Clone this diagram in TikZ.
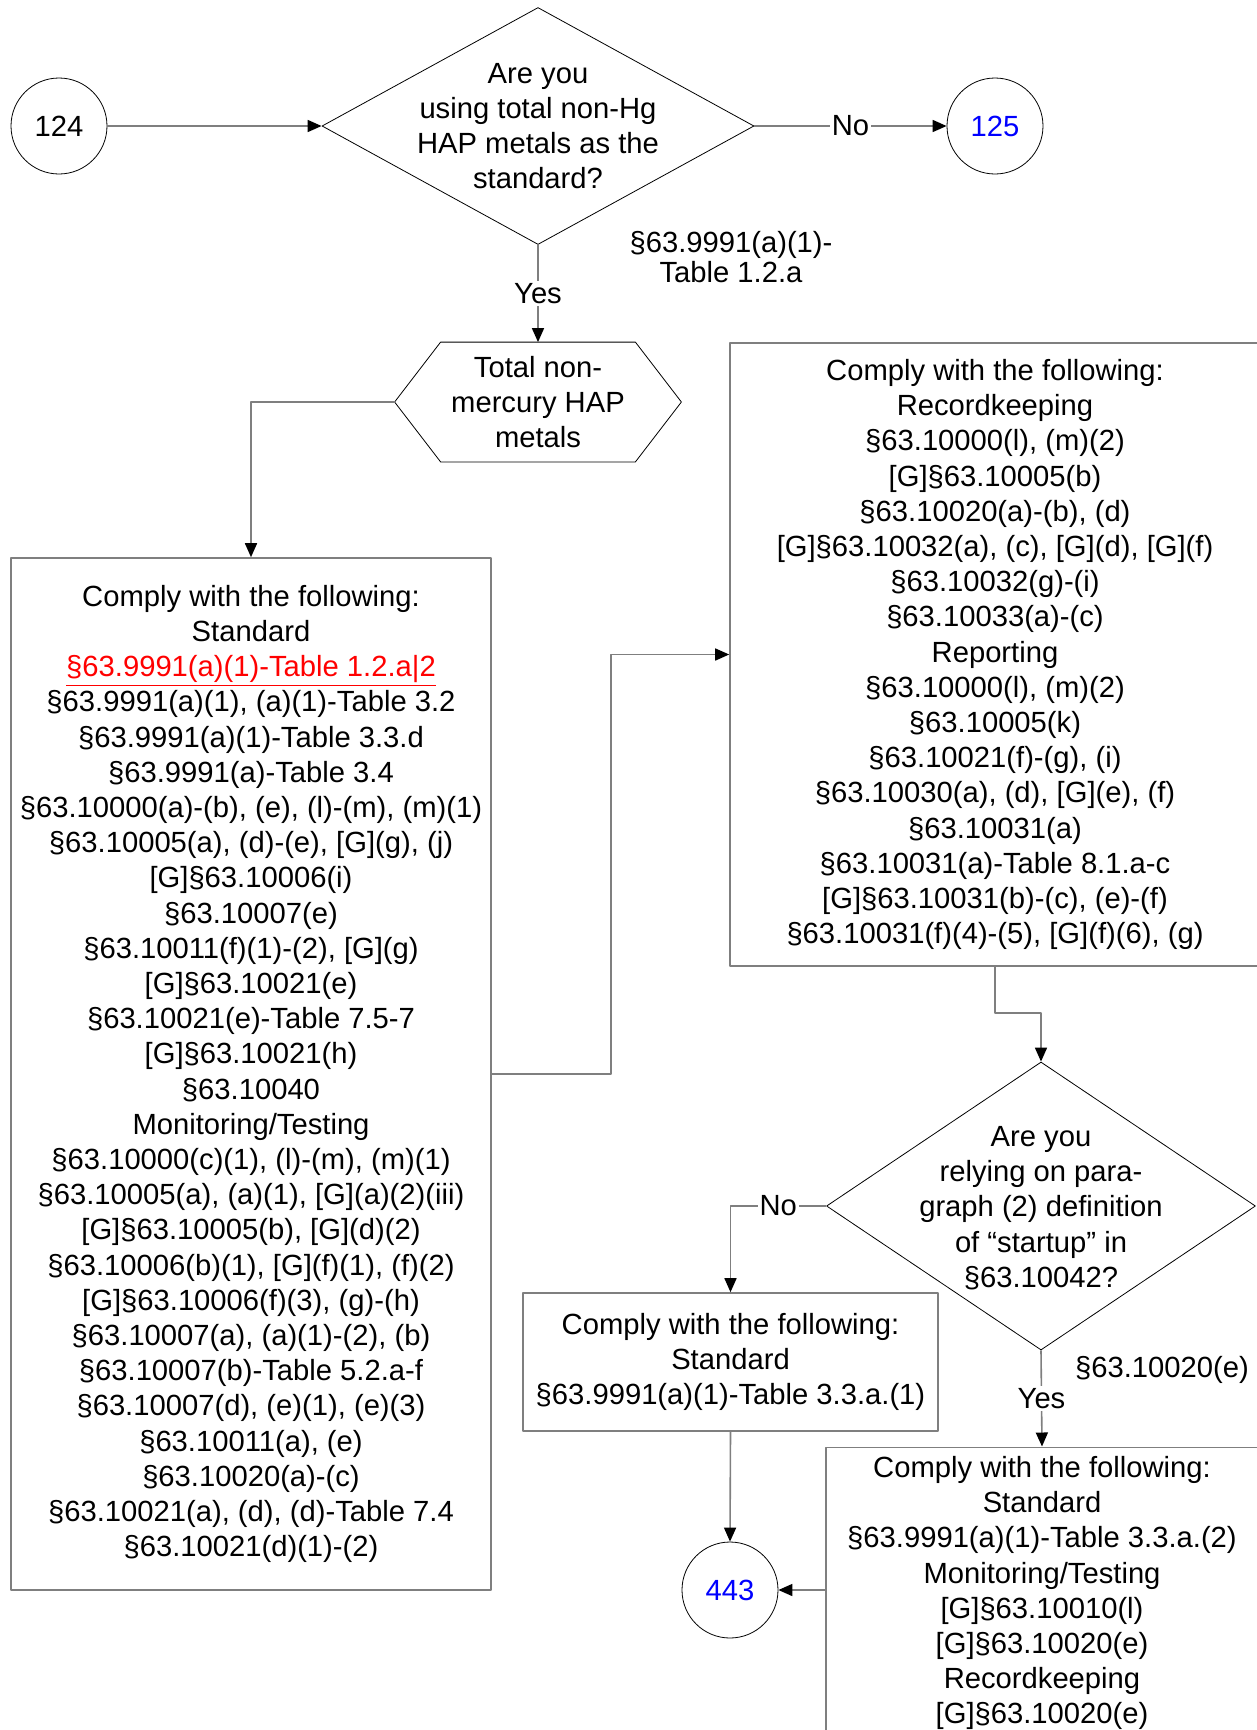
\documentclass[tikz,border=0pt]{standalone}
\usepackage{fontspec}
\setmainfont{Liberation Sans}
\usetikzlibrary{arrows.meta,shapes.geometric}
\definecolor{linegray}{HTML}{7F7F7F}
\definecolor{linkblue}{HTML}{0000FF}
\definecolor{markred}{HTML}{FF0000}
\tikzset{
  conn/.style={draw=linegray, line width=0.8pt},
  stdbox/.style={draw=linegray, line width=0.8pt, align=center, inner sep=0pt},
  decision/.style={diamond, draw, line width=0.4pt, inner sep=0pt},
  pagelink/.style={circle, draw, line width=0.4pt, minimum size=48pt, inner sep=0pt},
  lbl/.style={fill=white, inner sep=1pt},
}
\begin{document}
\begin{tikzpicture}[x=0.5pt, y=-0.5pt, >={Triangle[length=7pt,width=6pt,color=black]},
  font=\fontsize{14.6pt}{17.6pt}\selectfont, line join=round]
\useasboundingbox (0,0) rectangle (1257,1730);
\begin{scope}
\clip (0,0) rectangle (1257,1730);
% top question
\node[pagelink] (c124) at (59,126) {124};
\node[decision, minimum width=216pt, minimum height=118.5pt] (q1) at (538,126) {};
\node[align=center] (q1txt) at (538,126) {Are you\\using total non-Hg\\HAP metals as the\\standard?};
\node[pagelink, text=linkblue] (c125) at (995,126) {125};
\node[align=center, font=\fontsize{14.6pt}{15pt}\selectfont] (ref1) at (731,257) {§63.9991(a)(1)-\\Table 1.2.a};
% hexagon
\node[align=center, minimum width=143pt, minimum height=59.5pt, inner sep=0pt] (hex) at (538,402)
  {Total non-\\mercury HAP\\metals};
\draw[line width=0.4pt] (hex.west) -- ([xshift=23pt]hex.north west) -- ([xshift=-23pt]hex.north east)
  -- (hex.east) -- ([xshift=-23pt]hex.south east) -- ([xshift=23pt]hex.south west) -- cycle;
% left box
\node[stdbox, minimum width=240pt, minimum height=516pt] (lbox) at (251,1074) {Comply with the following:\\
Standard\\
\textcolor{markred}{\underline{§63.9991(a)(1)-Table 1.2.a|2}}\\
§63.9991(a)(1), (a)(1)-Table 3.2\\
§63.9991(a)(1)-Table 3.3.d\\
§63.9991(a)-Table 3.4\\
§63.10000(a)-(b), (e), (l)-(m), (m)(1)\\
§63.10005(a), (d)-(e), [G](g), (j)\\
{}[G]§63.10006(i)\\
§63.10007(e)\\
§63.10011(f)(1)-(2), [G](g)\\
{}[G]§63.10021(e)\\
§63.10021(e)-Table 7.5-7\\
{}[G]§63.10021(h)\\
§63.10040\\
Monitoring/Testing\\
§63.10000(c)(1), (l)-(m), (m)(1)\\
§63.10005(a), (a)(1), [G](a)(2)(iii)\\
{}[G]§63.10005(b), [G](d)(2)\\
§63.10006(b)(1), [G](f)(1), (f)(2)\\
{}[G]§63.10006(f)(3), (g)-(h)\\
§63.10007(a), (a)(1)-(2), (b)\\
§63.10007(b)-Table 5.2.a-f\\
§63.10007(d), (e)(1), (e)(3)\\
§63.10011(a), (e)\\
§63.10020(a)-(c)\\
§63.10021(a), (d), (d)-Table 7.4\\
§63.10021(d)(1)-(2)};
% right box
\node[stdbox, minimum width=265pt, minimum height=311.5pt] (rbox) at (995,654.5) {Comply with the following:\\
Recordkeeping\\
§63.10000(l), (m)(2)\\
{}[G]§63.10005(b)\\
§63.10020(a)-(b), (d)\\
{}[G]§63.10032(a), (c), [G](d), [G](f)\\
§63.10032(g)-(i)\\
§63.10033(a)-(c)\\
Reporting\\
§63.10000(l), (m)(2)\\
§63.10005(k)\\
§63.10021(f)-(g), (i)\\
§63.10030(a), (d), [G](e), (f)\\
§63.10031(a)\\
§63.10031(a)-Table 8.1.a-c\\
{}[G]§63.10031(b)-(c), (e)-(f)\\
§63.10031(f)(4)-(5), [G](f)(6), (g)};
% startup question
\node[decision, minimum width=214.5pt, minimum height=144pt] (q2) at (1041,1206) {};
\node[align=center] (q2txt) at (1041,1208) {Are you\\relying on para-\\graph (2) definition\\of “startup” in\\§63.10042?};
\node (ref2) at (1162,1370) {§63.10020(e)};
\node[stdbox, minimum width=207.5pt, minimum height=69pt] (box3) at (730.5,1362) {Comply with the following:\\
Standard\\
§63.9991(a)(1)-Table 3.3.a.(1)};
\node[pagelink, text=linkblue] (c443) at (730,1590) {443};
\node[stdbox, anchor=north, minimum width=216pt, inner ysep=4.5pt, text depth=30pt] (box4) at (1042,1446.5) {Comply with the following:\\
Standard\\
§63.9991(a)(1)-Table 3.3.a.(2)\\
Monitoring/Testing\\
{}[G]§63.10010(l)\\
{}[G]§63.10020(e)\\
Recordkeeping\\
{}[G]§63.10020(e)};
% connectors
\draw[conn,->] (c124.east) -- (q1.west);
\draw[conn,->] (q1.east) -- node[lbl]{No} (c125.west);
\draw[conn,->] (q1.south) -- node[lbl]{Yes} (hex.north);
\draw[conn,->] (hex.west) -| (lbox.north);
\draw[conn,->] (lbox.east) -- ++(119,0) |- (rbox.west);
\draw[conn,->] (rbox.south) -- ++(0,46) -| (q2.north);
\draw[conn,->] (q2.west) -| node[lbl,pos=0.25]{No} (box3.north);
\draw[conn,->] (q2.south) -- node[lbl]{Yes} (box4.north);
\draw[conn,->] (box3.south) -- (c443.north);
\draw[conn,->] (box4.west |- c443.east) -- (c443.east);
\end{scope}
\end{tikzpicture}
\end{document}
